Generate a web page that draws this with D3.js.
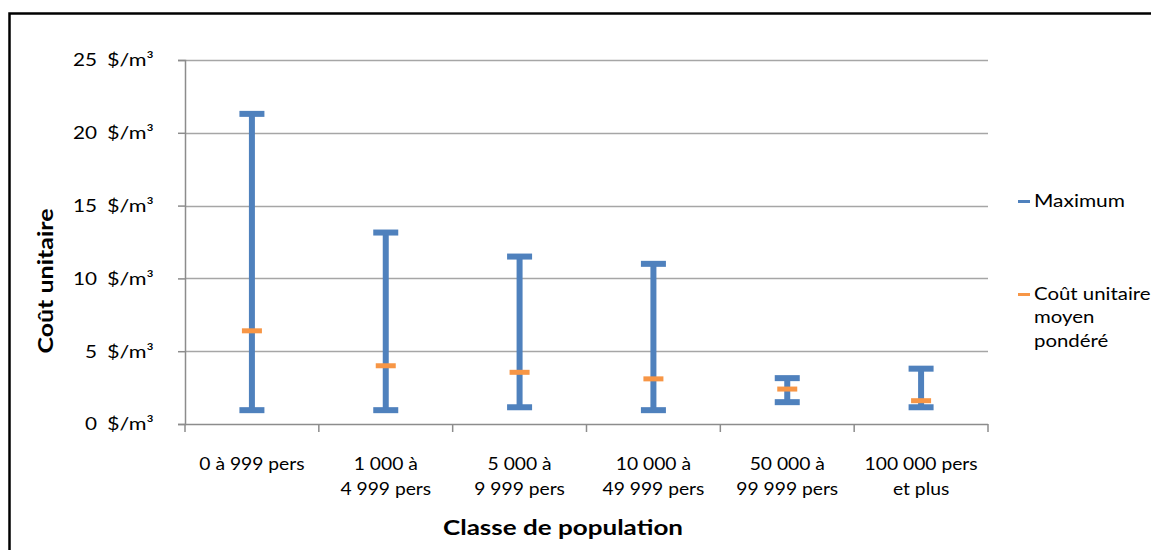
<!DOCTYPE html>
<html>
<head>
<meta charset="utf-8">
<script src="https://cdn.jsdelivr.net/npm/d3@7"></script>
<style>
  html, body { margin: 0; padding: 0; background: #fff; }
  svg { display: block; font-family: Lato, "Open Sans", sans-serif; }
</style>
</head>
<body>
<svg id="graphe" width="1151" height="550"></svg>
<script>
const categories = [
    "0 à 999 pers", "1 000 à|4 999 pers", "5 000 à|9 999 pers",
    "10 000 à|49 999 pers", "50 000 à|99 999 pers", "100 000 pers|et plus"
];
const maximum = [21.3, 13.15, 11.5, 11.0, 3.15, 3.8];
const minimum = [0.95, 0.95, 1.15, 0.95, 1.5, 1.15];
const moyen   = [6.4, 4.0, 3.55, 3.1, 2.4, 1.6];
const yTicks  = [0, 5, 10, 15, 20, 25];

const bleu = "#4f81bd", orange = "#f79646";

const svg = d3.select("#graphe");

// le texte de l'original est un peu étiré en largeur
function texte(parent, x, y, sx) {
    return parent.append("text")
        .attr("transform", `translate(${x},${y}) scale(${sx},1)`);
}

// cadre
svg.append("rect")
    .attr("x", 9.5).attr("y", 13.5)
    .attr("width", 1200).attr("height", 600)
    .attr("fill", "none").attr("stroke", "#000").attr("stroke-width", 2.5);

const gauche = 185, droite = 988, haut = 60, bas = 424;

const x = d3.scaleBand().domain(categories).range([gauche, droite]).padding(0);
const y = d3.scaleLinear().domain([0, 25]).range([bas, haut]);

// grille
svg.append("g")
    .selectAll("line")
    .data(yTicks.filter(d => d > 0))
    .join("line")
    .attr("x1", gauche).attr("x2", droite)
    .attr("y1", d => Math.round(y(d)) + 0.5).attr("y2", d => Math.round(y(d)) + 0.5)
    .attr("stroke", "#a6a6a6").attr("stroke-width", 1.5);

// axe Y
const axeY = svg.append("g")
    .attr("transform", `translate(${gauche},0)`)
    .call(d3.axisLeft(y).tickValues(yTicks).tickSize(7).tickFormat(() => ""));
axeY.select(".domain").attr("stroke", "#8c8c8c").attr("stroke-width", 1.5);
axeY.selectAll(".tick line").attr("stroke", "#8c8c8c").attr("stroke-width", 1.5);

// étiquettes Y : nombre + unité
const etiqY = svg.append("g").attr("font-size", 18).attr("fill", "#000");
yTicks.forEach(v => {
    texte(etiqY, 97, y(v), 1.15).attr("dy", "0.35em").attr("text-anchor", "end").text(v);
    texte(etiqY, 107, y(v), 1.2).attr("dy", "0.35em").text("$/m³");
});

// axe X
svg.append("line")
    .attr("x1", gauche).attr("x2", droite)
    .attr("y1", bas + 0.5).attr("y2", bas + 0.5)
    .attr("stroke", "#8c8c8c").attr("stroke-width", 1.5);
const bornes = categories.map(c => x(c)).concat([droite]);
svg.append("g")
    .selectAll("line")
    .data(bornes)
    .join("line")
    .attr("x1", d => d).attr("x2", d => d)
    .attr("y1", bas).attr("y2", bas + 8)
    .attr("stroke", "#8c8c8c").attr("stroke-width", 1.5);

const etiqX = svg.append("g").attr("font-size", 18).attr("text-anchor", "middle");
categories.forEach(c => {
    const t = texte(etiqX, x(c) + x.bandwidth() / 2, 470, 1.07);
    c.split("|").forEach((l, i) => {
        t.append("tspan").attr("x", 0).attr("dy", i === 0 ? 0 : 25).text(l);
    });
});

// barres min-max
const cx = i => x(categories[i]) + x.bandwidth() / 2;
const barres = svg.append("g");
categories.forEach((c, i) => {
    barres.append("line")
        .attr("x1", cx(i)).attr("x2", cx(i))
        .attr("y1", y(maximum[i])).attr("y2", y(minimum[i]))
        .attr("stroke", bleu).attr("stroke-width", 6);
    [maximum[i], minimum[i]].forEach(v => {
        barres.append("rect")
            .attr("x", cx(i) - 12.5).attr("y", y(v) - 3)
            .attr("width", 25).attr("height", 6)
            .attr("fill", bleu);
    });
    barres.append("rect")
        .attr("x", cx(i) - 10).attr("y", y(moyen[i]) - 2.5)
        .attr("width", 20).attr("height", 5)
        .attr("fill", orange);
});

// titres
svg.append("text")
    .attr("transform", "translate(53,281) rotate(-90) scale(1.19,1)")
    .attr("text-anchor", "middle")
    .attr("font-size", 21).attr("font-weight", "bold")
    .text("Coût unitaire");
texte(svg, 563, 535, 1.24)
    .attr("text-anchor", "middle")
    .attr("font-size", 21).attr("font-weight", "bold")
    .text("Classe de population");

// légende
const legende = svg.append("g").attr("font-size", 17);
legende.append("rect").attr("x", 1018).attr("y", 200).attr("width", 12).attr("height", 3).attr("fill", bleu);
texte(legende, 1034, 207, 1.23).text("Maximum");
legende.append("rect").attr("x", 1018).attr("y", 293).attr("width", 12).attr("height", 3).attr("fill", orange);
const t2 = texte(legende, 1034, 300, 1.2);
["Coût unitaire", "moyen", "pondéré"].forEach((l, i) => {
    t2.append("tspan").attr("x", 0).attr("dy", i === 0 ? 0 : 23.5).text(l);
});
</script>
</body>
</html>
